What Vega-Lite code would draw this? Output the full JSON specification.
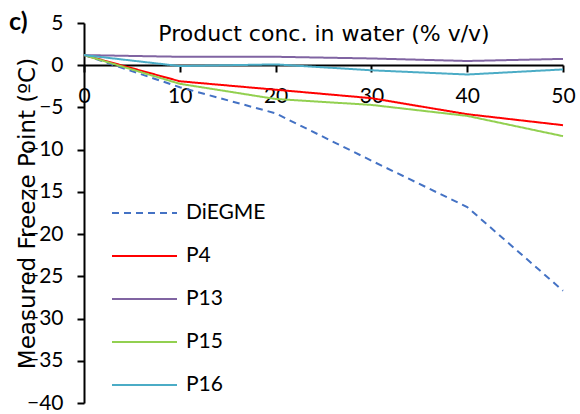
{
  "$schema": "https://vega.github.io/schema/vega-lite/v6.json",
  "width": 479,
  "height": 380,
  "autosize": {"type": "none"},
  "padding": {"left": 84, "top": 23, "right": 17, "bottom": 11},
  "background": "white",
  "title": {
    "text": "c)",
    "anchor": "start",
    "frame": "group",
    "baseline": "top",
    "dx": -75,
    "offset": 0,
    "dy": 23,
    "fontSize": 25,
    "fontWeight": "bold",
    "font": "Lato",
    "color": "black"
  },
  "data": {
    "values": [
      {"series": "DiEGME", "conc": 0, "fp": 1.2},
      {"series": "DiEGME", "conc": 10, "fp": -2.6},
      {"series": "DiEGME", "conc": 20, "fp": -5.7},
      {"series": "DiEGME", "conc": 30, "fp": -11.3},
      {"series": "DiEGME", "conc": 40, "fp": -16.8},
      {"series": "DiEGME", "conc": 50, "fp": -26.7},
      {"series": "P4", "conc": 0, "fp": 1.2},
      {"series": "P4", "conc": 10, "fp": -1.9},
      {"series": "P4", "conc": 20, "fp": -2.9},
      {"series": "P4", "conc": 30, "fp": -3.9},
      {"series": "P4", "conc": 40, "fp": -5.8},
      {"series": "P4", "conc": 50, "fp": -7.1},
      {"series": "P13", "conc": 0, "fp": 1.2},
      {"series": "P13", "conc": 10, "fp": 1.0},
      {"series": "P13", "conc": 20, "fp": 1.0},
      {"series": "P13", "conc": 30, "fp": 0.8},
      {"series": "P13", "conc": 40, "fp": 0.5},
      {"series": "P13", "conc": 50, "fp": 0.75},
      {"series": "P15", "conc": 0, "fp": 1.2},
      {"series": "P15", "conc": 10, "fp": -2.2},
      {"series": "P15", "conc": 20, "fp": -4.0},
      {"series": "P15", "conc": 30, "fp": -4.7},
      {"series": "P15", "conc": 40, "fp": -6.0},
      {"series": "P15", "conc": 50, "fp": -8.4},
      {"series": "P16", "conc": 0, "fp": 1.2},
      {"series": "P16", "conc": 10, "fp": -0.1},
      {"series": "P16", "conc": 20, "fp": 0.1},
      {"series": "P16", "conc": 30, "fp": -0.6},
      {"series": "P16", "conc": 40, "fp": -1.1},
      {"series": "P16", "conc": 50, "fp": -0.5}
    ]
  },
  "config": {
    "view": {"stroke": null},
    "font": "Lato",
    "axis": {
      "grid": false,
      "domainColor": "black",
      "domainWidth": 2,
      "tickColor": "black",
      "tickWidth": 2,
      "tickSize": 7,
      "labelColor": "black",
      "labelFontSize": 21,
      "labelFont": "Lato",
      "titleFont": "DejaVu Sans",
      "titleFontWeight": "normal",
      "titleColor": "black",
      "titleFontSize": 22
    }
  },
  "mark": {"type": "line", "strokeWidth": 2},
  "encoding": {
    "x": {
      "field": "conc",
      "type": "quantitative",
      "scale": {"domain": [0, 50], "nice": false, "zero": false},
      "axis": {
        "orient": "bottom",
        "offset": -338,
        "values": [0, 10, 20, 30, 40, 50],
        "labelPadding": 13,
        "labelFlush": false,
        "labelOverlap": false,
        "labelBound": false,
        "title": "Product conc. in water (% v/v)",
        "titleY": -32,
        "titleBaseline": "middle"
      }
    },
    "y": {
      "field": "fp",
      "type": "quantitative",
      "scale": {"domain": [-40, 5], "nice": false, "zero": false},
      "axis": {
        "values": [5, 0, -5, -10, -15, -20, -25, -30, -35, -40],
        "labelPadding": 14,
        "labelOverlap": false,
        "labelFlush": false,
        "title": "Measured Freeze Point (ºC)",
        "titleFontSize": 23,
        "titleX": -57,
        "titleY": 190,
        "titleBaseline": "middle"
      }
    },
    "color": {
      "field": "series",
      "type": "nominal",
      "scale": {
        "domain": ["DiEGME", "P4", "P13", "P15", "P16"],
        "range": ["#4472C4", "#FF0000", "#8064A2", "#92D050", "#4BACC6"]
      },
      "legend": {
        "orient": "none",
        "legendX": 27,
        "legendY": 180,
        "title": null,
        "symbolType": "stroke",
        "symbolSize": 4225,
        "symbolStrokeWidth": 2,
        "clipHeight": 20,
        "rowPadding": 22,
        "labelOffset": 8,
        "labelFontSize": 21,
        "labelColor": "black",
        "labelFont": "Lato",
        "padding": 0
      }
    },
    "strokeDash": {
      "field": "series",
      "type": "nominal",
      "scale": {
        "domain": ["DiEGME", "P4", "P13", "P15", "P16"],
        "range": [[7, 5], [1, 0], [1, 0], [1, 0], [1, 0]]
      },
      "legend": null
    }
  }
}
